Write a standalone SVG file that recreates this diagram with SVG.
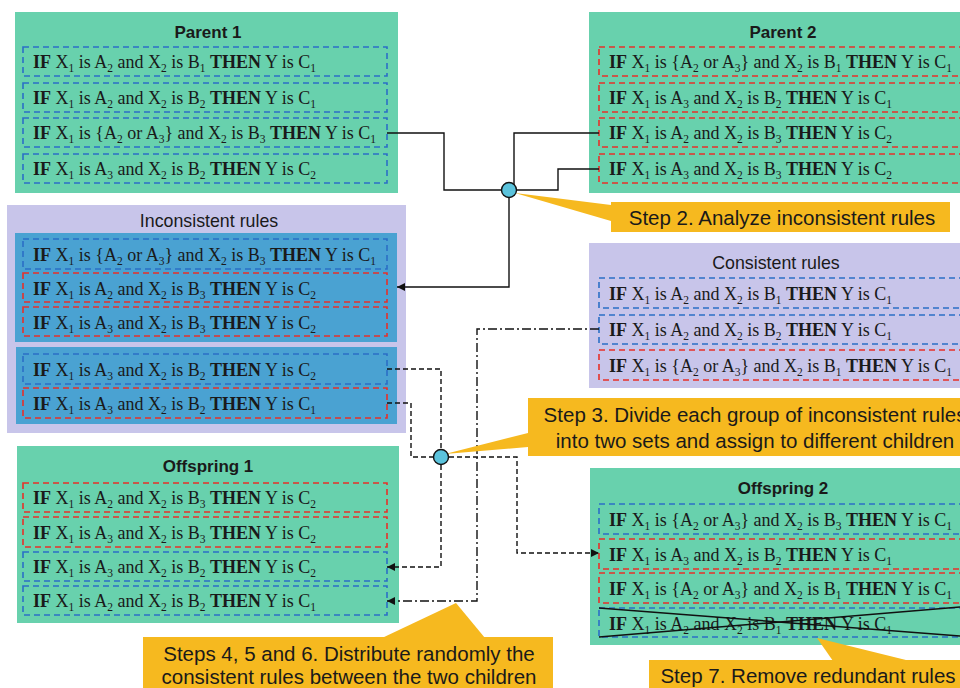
<svg xmlns="http://www.w3.org/2000/svg" width="960" height="688" viewBox="0 0 960 688">
<defs>
<style>
.green{fill:#68d1ad}
.lav{fill:#c8c5ea}
.inner{fill:#4aa2d2}
.rb{fill:none;stroke:#2b6fc6;stroke-width:1.6;stroke-dasharray:6 4}
.rr{fill:none;stroke:#e6302a;stroke-width:1.6;stroke-dasharray:6 4}
.r{font-family:"Liberation Serif","Times New Roman",serif;font-size:18px;fill:#1a1a1a}
.b{font-weight:bold}
.s{font-size:11.5px}
.title{font-family:"Liberation Sans",Arial,sans-serif;font-size:17px;font-weight:bold;fill:#1a1a1a;text-anchor:middle}
.sub{font-family:"Liberation Sans",Arial,sans-serif;font-size:17.8px;fill:#1a1a1a;text-anchor:middle}
.call{fill:#f6b91f}
.ct{font-family:"Liberation Sans",Arial,sans-serif;font-size:20.5px;fill:#1a1a1a;text-anchor:middle}
.solid{fill:none;stroke:#111;stroke-width:1.4}
.dash{fill:none;stroke:#111;stroke-width:1.4;stroke-dasharray:5 3}
.dd{fill:none;stroke:#111;stroke-width:1.4;stroke-dasharray:9 3 2 3}
.node{fill:#5bc3dc;stroke:#111;stroke-width:1.4}
.x{stroke:#111;stroke-width:1.5}
</style>
<marker id="arr" viewBox="0 0 10 10" refX="10" refY="5" markerWidth="8" markerHeight="8" markerUnits="userSpaceOnUse" orient="auto">
<path d="M0,0 L10,5 L0,10 z" fill="#111"/>
</marker>
</defs>
<rect width="960" height="688" fill="#fff"/>

<g id="parent1">
<rect class="green" x="15" y="12" width="383" height="181"/>
<text class="title" x="208" y="38">Parent 1</text>
<rect class="rb" x="23" y="47" width="364" height="29"/>
<text class="r" x="33" y="68"><tspan class="b">IF</tspan> X<tspan class="s" dy="4">1</tspan><tspan dy="-4"> is A</tspan><tspan class="s" dy="4">2</tspan><tspan dy="-4"> and X</tspan><tspan class="s" dy="4">2</tspan><tspan dy="-4"> is B</tspan><tspan class="s" dy="4">1</tspan><tspan dy="-4"> </tspan><tspan class="b">THEN</tspan> Y is C<tspan class="s" dy="4">1</tspan></text>
<rect class="rb" x="23" y="83" width="364" height="29"/>
<text class="r" x="33" y="104"><tspan class="b">IF</tspan> X<tspan class="s" dy="4">1</tspan><tspan dy="-4"> is A</tspan><tspan class="s" dy="4">2</tspan><tspan dy="-4"> and X</tspan><tspan class="s" dy="4">2</tspan><tspan dy="-4"> is B</tspan><tspan class="s" dy="4">2</tspan><tspan dy="-4"> </tspan><tspan class="b">THEN</tspan> Y is C<tspan class="s" dy="4">1</tspan></text>
<rect class="rb" x="23" y="118" width="364" height="29"/>
<text class="r" x="33" y="139"><tspan class="b">IF</tspan> X<tspan class="s" dy="4">1</tspan><tspan dy="-4"> is {A</tspan><tspan class="s" dy="4">2</tspan><tspan dy="-4"> or A</tspan><tspan class="s" dy="4">3</tspan><tspan dy="-4">} and X</tspan><tspan class="s" dy="4">2</tspan><tspan dy="-4"> is B</tspan><tspan class="s" dy="4">3</tspan><tspan dy="-4"> </tspan><tspan class="b">THEN</tspan> Y is C<tspan class="s" dy="4">1</tspan></text>
<rect class="rb" x="23" y="154" width="364" height="29"/>
<text class="r" x="33" y="175"><tspan class="b">IF</tspan> X<tspan class="s" dy="4">1</tspan><tspan dy="-4"> is A</tspan><tspan class="s" dy="4">3</tspan><tspan dy="-4"> and X</tspan><tspan class="s" dy="4">2</tspan><tspan dy="-4"> is B</tspan><tspan class="s" dy="4">2</tspan><tspan dy="-4"> </tspan><tspan class="b">THEN</tspan> Y is C<tspan class="s" dy="4">2</tspan></text>
</g>

<g id="parent2">
<rect class="green" x="589" y="12" width="380" height="181"/>
<text class="title" x="783" y="38">Parent 2</text>
<rect class="rr" x="599" y="47" width="380" height="29"/>
<text class="r" x="609" y="68"><tspan class="b">IF</tspan> X<tspan class="s" dy="4">1</tspan><tspan dy="-4"> is {A</tspan><tspan class="s" dy="4">2</tspan><tspan dy="-4"> or A</tspan><tspan class="s" dy="4">3</tspan><tspan dy="-4">} and X</tspan><tspan class="s" dy="4">2</tspan><tspan dy="-4"> is B</tspan><tspan class="s" dy="4">1</tspan><tspan dy="-4"> </tspan><tspan class="b">THEN</tspan> Y is C<tspan class="s" dy="4">1</tspan></text>
<rect class="rr" x="599" y="83" width="380" height="29"/>
<text class="r" x="609" y="104"><tspan class="b">IF</tspan> X<tspan class="s" dy="4">1</tspan><tspan dy="-4"> is A</tspan><tspan class="s" dy="4">3</tspan><tspan dy="-4"> and X</tspan><tspan class="s" dy="4">2</tspan><tspan dy="-4"> is B</tspan><tspan class="s" dy="4">2</tspan><tspan dy="-4"> </tspan><tspan class="b">THEN</tspan> Y is C<tspan class="s" dy="4">1</tspan></text>
<rect class="rr" x="599" y="118" width="380" height="29"/>
<text class="r" x="609" y="139"><tspan class="b">IF</tspan> X<tspan class="s" dy="4">1</tspan><tspan dy="-4"> is A</tspan><tspan class="s" dy="4">2</tspan><tspan dy="-4"> and X</tspan><tspan class="s" dy="4">2</tspan><tspan dy="-4"> is B</tspan><tspan class="s" dy="4">3</tspan><tspan dy="-4"> </tspan><tspan class="b">THEN</tspan> Y is C<tspan class="s" dy="4">2</tspan></text>
<rect class="rr" x="599" y="154" width="380" height="29"/>
<text class="r" x="609" y="175"><tspan class="b">IF</tspan> X<tspan class="s" dy="4">1</tspan><tspan dy="-4"> is A</tspan><tspan class="s" dy="4">3</tspan><tspan dy="-4"> and X</tspan><tspan class="s" dy="4">2</tspan><tspan dy="-4"> is B</tspan><tspan class="s" dy="4">3</tspan><tspan dy="-4"> </tspan><tspan class="b">THEN</tspan> Y is C<tspan class="s" dy="4">2</tspan></text>
</g>

<g id="inconsistent">
<rect class="lav" x="7" y="205" width="399" height="228"/>
<text class="sub" x="209" y="227">Inconsistent rules</text>
<rect class="inner" x="15" y="233" width="382" height="109"/>
<rect class="rb" x="23" y="239" width="364" height="30"/>
<text class="r" x="33" y="261"><tspan class="b">IF</tspan> X<tspan class="s" dy="4">1</tspan><tspan dy="-4"> is {A</tspan><tspan class="s" dy="4">2</tspan><tspan dy="-4"> or A</tspan><tspan class="s" dy="4">3</tspan><tspan dy="-4">} and X</tspan><tspan class="s" dy="4">2</tspan><tspan dy="-4"> is B</tspan><tspan class="s" dy="4">3</tspan><tspan dy="-4"> </tspan><tspan class="b">THEN</tspan> Y is C<tspan class="s" dy="4">1</tspan></text>
<rect class="rr" x="23" y="273" width="364" height="29"/>
<text class="r" x="33" y="295"><tspan class="b">IF</tspan> X<tspan class="s" dy="4">1</tspan><tspan dy="-4"> is A</tspan><tspan class="s" dy="4">2</tspan><tspan dy="-4"> and X</tspan><tspan class="s" dy="4">2</tspan><tspan dy="-4"> is B</tspan><tspan class="s" dy="4">3</tspan><tspan dy="-4"> </tspan><tspan class="b">THEN</tspan> Y is C<tspan class="s" dy="4">2</tspan></text>
<rect class="rr" x="23" y="307" width="364" height="29"/>
<text class="r" x="33" y="329"><tspan class="b">IF</tspan> X<tspan class="s" dy="4">1</tspan><tspan dy="-4"> is A</tspan><tspan class="s" dy="4">3</tspan><tspan dy="-4"> and X</tspan><tspan class="s" dy="4">2</tspan><tspan dy="-4"> is B</tspan><tspan class="s" dy="4">3</tspan><tspan dy="-4"> </tspan><tspan class="b">THEN</tspan> Y is C<tspan class="s" dy="4">2</tspan></text>
<rect class="inner" x="16" y="347" width="381" height="77"/>
<rect class="rb" x="23" y="354" width="364" height="30"/>
<text class="r" x="33" y="376"><tspan class="b">IF</tspan> X<tspan class="s" dy="4">1</tspan><tspan dy="-4"> is A</tspan><tspan class="s" dy="4">3</tspan><tspan dy="-4"> and X</tspan><tspan class="s" dy="4">2</tspan><tspan dy="-4"> is B</tspan><tspan class="s" dy="4">2</tspan><tspan dy="-4"> </tspan><tspan class="b">THEN</tspan> Y is C<tspan class="s" dy="4">2</tspan></text>
<rect class="rr" x="23" y="388" width="364" height="30"/>
<text class="r" x="33" y="410"><tspan class="b">IF</tspan> X<tspan class="s" dy="4">1</tspan><tspan dy="-4"> is A</tspan><tspan class="s" dy="4">3</tspan><tspan dy="-4"> and X</tspan><tspan class="s" dy="4">2</tspan><tspan dy="-4"> is B</tspan><tspan class="s" dy="4">2</tspan><tspan dy="-4"> </tspan><tspan class="b">THEN</tspan> Y is C<tspan class="s" dy="4">1</tspan></text>
</g>

<g id="consistent">
<rect class="lav" x="589" y="243" width="380" height="145"/>
<text class="sub" x="776" y="269">Consistent rules</text>
<rect class="rb" x="599" y="278" width="380" height="30"/>
<text class="r" x="609" y="300"><tspan class="b">IF</tspan> X<tspan class="s" dy="4">1</tspan><tspan dy="-4"> is A</tspan><tspan class="s" dy="4">2</tspan><tspan dy="-4"> and X</tspan><tspan class="s" dy="4">2</tspan><tspan dy="-4"> is B</tspan><tspan class="s" dy="4">1</tspan><tspan dy="-4"> </tspan><tspan class="b">THEN</tspan> Y is C<tspan class="s" dy="4">1</tspan></text>
<rect class="rb" x="599" y="315" width="380" height="29"/>
<text class="r" x="609" y="336"><tspan class="b">IF</tspan> X<tspan class="s" dy="4">1</tspan><tspan dy="-4"> is A</tspan><tspan class="s" dy="4">2</tspan><tspan dy="-4"> and X</tspan><tspan class="s" dy="4">2</tspan><tspan dy="-4"> is B</tspan><tspan class="s" dy="4">2</tspan><tspan dy="-4"> </tspan><tspan class="b">THEN</tspan> Y is C<tspan class="s" dy="4">1</tspan></text>
<rect class="rr" x="599" y="350" width="380" height="30"/>
<text class="r" x="609" y="372"><tspan class="b">IF</tspan> X<tspan class="s" dy="4">1</tspan><tspan dy="-4"> is {A</tspan><tspan class="s" dy="4">2</tspan><tspan dy="-4"> or A</tspan><tspan class="s" dy="4">3</tspan><tspan dy="-4">} and X</tspan><tspan class="s" dy="4">2</tspan><tspan dy="-4"> is B</tspan><tspan class="s" dy="4">1</tspan><tspan dy="-4"> </tspan><tspan class="b">THEN</tspan> Y is C<tspan class="s" dy="4">1</tspan></text>
</g>

<g id="offspring1">
<rect class="green" x="17" y="446" width="382" height="177"/>
<text class="title" x="208" y="472">Offspring 1</text>
<rect class="rr" x="23" y="483" width="364" height="29"/>
<text class="r" x="33" y="504"><tspan class="b">IF</tspan> X<tspan class="s" dy="4">1</tspan><tspan dy="-4"> is A</tspan><tspan class="s" dy="4">2</tspan><tspan dy="-4"> and X</tspan><tspan class="s" dy="4">2</tspan><tspan dy="-4"> is B</tspan><tspan class="s" dy="4">3</tspan><tspan dy="-4"> </tspan><tspan class="b">THEN</tspan> Y is C<tspan class="s" dy="4">2</tspan></text>
<rect class="rr" x="23" y="517" width="364" height="30"/>
<text class="r" x="33" y="539"><tspan class="b">IF</tspan> X<tspan class="s" dy="4">1</tspan><tspan dy="-4"> is A</tspan><tspan class="s" dy="4">3</tspan><tspan dy="-4"> and X</tspan><tspan class="s" dy="4">2</tspan><tspan dy="-4"> is B</tspan><tspan class="s" dy="4">3</tspan><tspan dy="-4"> </tspan><tspan class="b">THEN</tspan> Y is C<tspan class="s" dy="4">2</tspan></text>
<rect class="rb" x="23" y="552" width="364" height="29"/>
<text class="r" x="33" y="573"><tspan class="b">IF</tspan> X<tspan class="s" dy="4">1</tspan><tspan dy="-4"> is A</tspan><tspan class="s" dy="4">3</tspan><tspan dy="-4"> and X</tspan><tspan class="s" dy="4">2</tspan><tspan dy="-4"> is B</tspan><tspan class="s" dy="4">2</tspan><tspan dy="-4"> </tspan><tspan class="b">THEN</tspan> Y is C<tspan class="s" dy="4">2</tspan></text>
<rect class="rb" x="23" y="586" width="364" height="29"/>
<text class="r" x="33" y="607"><tspan class="b">IF</tspan> X<tspan class="s" dy="4">1</tspan><tspan dy="-4"> is A</tspan><tspan class="s" dy="4">2</tspan><tspan dy="-4"> and X</tspan><tspan class="s" dy="4">2</tspan><tspan dy="-4"> is B</tspan><tspan class="s" dy="4">2</tspan><tspan dy="-4"> </tspan><tspan class="b">THEN</tspan> Y is C<tspan class="s" dy="4">1</tspan></text>
</g>

<g id="offspring2">
<rect class="green" x="590" y="468" width="380" height="177"/>
<text class="title" x="783" y="494">Offspring 2</text>
<rect class="rb" x="599" y="504" width="380" height="30"/>
<text class="r" x="609" y="526"><tspan class="b">IF</tspan> X<tspan class="s" dy="4">1</tspan><tspan dy="-4"> is {A</tspan><tspan class="s" dy="4">2</tspan><tspan dy="-4"> or A</tspan><tspan class="s" dy="4">3</tspan><tspan dy="-4">} and X</tspan><tspan class="s" dy="4">2</tspan><tspan dy="-4"> is B</tspan><tspan class="s" dy="4">3</tspan><tspan dy="-4"> </tspan><tspan class="b">THEN</tspan> Y is C<tspan class="s" dy="4">1</tspan></text>
<rect class="rr" x="599" y="539" width="380" height="30"/>
<text class="r" x="609" y="561"><tspan class="b">IF</tspan> X<tspan class="s" dy="4">1</tspan><tspan dy="-4"> is A</tspan><tspan class="s" dy="4">3</tspan><tspan dy="-4"> and X</tspan><tspan class="s" dy="4">2</tspan><tspan dy="-4"> is B</tspan><tspan class="s" dy="4">2</tspan><tspan dy="-4"> </tspan><tspan class="b">THEN</tspan> Y is C<tspan class="s" dy="4">1</tspan></text>
<rect class="rr" x="599" y="573" width="380" height="30"/>
<text class="r" x="609" y="595"><tspan class="b">IF</tspan> X<tspan class="s" dy="4">1</tspan><tspan dy="-4"> is {A</tspan><tspan class="s" dy="4">2</tspan><tspan dy="-4"> or A</tspan><tspan class="s" dy="4">3</tspan><tspan dy="-4">} and X</tspan><tspan class="s" dy="4">2</tspan><tspan dy="-4"> is B</tspan><tspan class="s" dy="4">1</tspan><tspan dy="-4"> </tspan><tspan class="b">THEN</tspan> Y is C<tspan class="s" dy="4">1</tspan></text>
<rect class="rb" x="599" y="608" width="380" height="29"/>
<text class="r" x="609" y="630"><tspan class="b">IF</tspan> X<tspan class="s" dy="4">1</tspan><tspan dy="-4"> is A</tspan><tspan class="s" dy="4">2</tspan><tspan dy="-4"> and X</tspan><tspan class="s" dy="4">2</tspan><tspan dy="-4"> is B</tspan><tspan class="s" dy="4">1</tspan><tspan dy="-4"> </tspan><tspan class="b">THEN</tspan> Y is C<tspan class="s" dy="4">1</tspan></text>
<line class="x" x1="599" y1="608" x2="960" y2="636"/>
<line class="x" x1="599" y1="637" x2="960" y2="607"/>
</g>

<g id="connectors">
<path class="solid" d="M387,133 H444 V190 H509"/>
<path class="solid" d="M599,133 H514 V190"/>
<path class="solid" d="M599,169 H558 V190 H509"/>
<path class="solid" d="M509,190 V287 H397" marker-end="url(#arr)"/>
<path class="dash" d="M387,369 H441 V457"/>
<path class="dash" d="M387,403 H411 V457 H441"/>
<path class="dash" d="M441,457 H517 V553 H599" marker-end="url(#arr)"/>
<path class="dash" d="M441,457 V567 H387" marker-end="url(#arr)"/>
<path class="dd" d="M599,329 H477 V601 H387" marker-end="url(#arr)"/>
</g>

<g id="step2">
<polygon class="call" points="515,193 611,205 611,221"/>
<rect class="call" x="611" y="202" width="339" height="30"/>
<text class="ct" x="782" y="225">Step 2. Analyze inconsistent rules</text>
</g>
<g id="step3">
<polygon class="call" points="445,454 528,433 528,447"/>
<rect class="call" x="528" y="398" width="440" height="58"/>
<text class="ct" x="755" y="422">Step 3. Divide each group of inconsistent rules</text>
<text class="ct" x="755" y="448">into two sets and assign to different children</text>
</g>
<g id="step456">
<polygon class="call" points="456,603 382,638 485,638"/>
<rect class="call" x="143" y="637" width="410" height="60"/>
<text class="ct" x="349" y="661">Steps 4, 5 and 6. Distribute randomly the</text>
<text class="ct" x="349" y="684">consistent rules between the two children</text>
</g>
<g id="step7">
<polygon class="call" points="817,638 833,661 910,661"/>
<rect class="call" x="649" y="660" width="320" height="40"/>
<text class="ct" x="808" y="683">Step 7. Remove redundant rules</text>
</g>

<g id="junctions">
<circle id="j1" class="node" cx="509" cy="190" r="7.5"/>
<circle id="j2" class="node" cx="441" cy="457" r="7.5"/>
</g>
</svg>
